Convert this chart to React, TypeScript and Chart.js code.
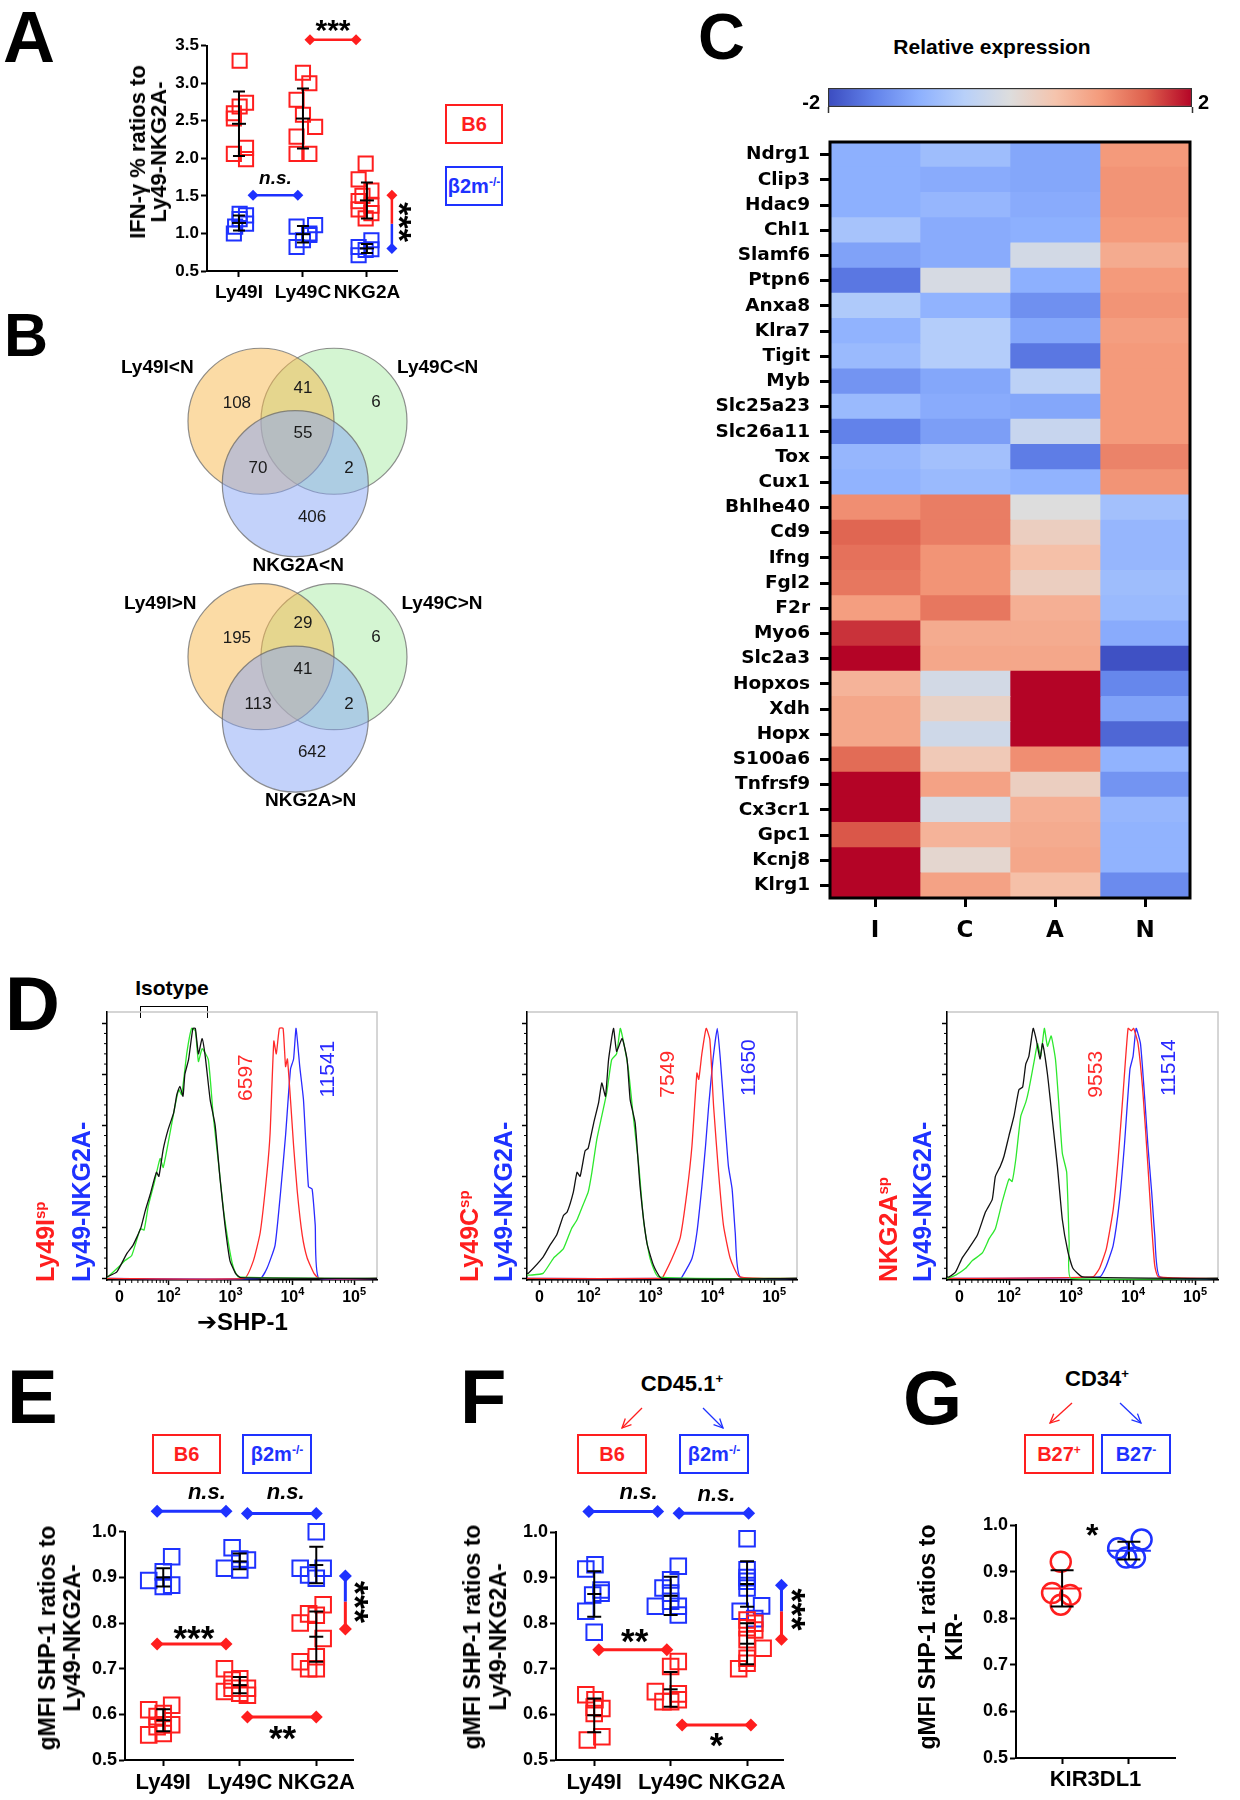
import React, { useEffect, useRef } from "react";
import { Chart, registerables } from "chart.js";

Chart.register(...registerables);

const SANS = "'Liberation Sans', Arial, sans-serif";
const DJV = "'DejaVu Sans', 'Liberation Sans', sans-serif";
Chart.defaults.font.family = SANS;
Chart.defaults.color = "#000";

const RED = "#ff1e1e";
const BLUE = "#1e32ff";
const CLEAR = "rgba(0,0,0,0)";

/* ===================== DATA ===================== */
// ---- Panel A : IFN-g % ratios ----
const catA = ["Ly49I", "Ly49C", "NKG2A"];
const aRedI_y = [3.3, 2.74, 2.69, 2.6, 2.53, 2.14, 2.06, 1.99];
const aRedI_x = [0.01, 0.11, 0.01, -0.08, -0.08, 0.11, -0.08, 0.11];
const aRedC_y = [3.14, 3.0, 2.78, 2.58, 2.42, 2.29, 2.06, 2.06];
const aRedC_x = [1.0, 1.1, 0.9, 1.0, 1.19, 0.9, 0.9, 1.1];
const aRedN_y = [1.93, 1.72, 1.57, 1.5, 1.43, 1.37, 1.32, 1.27, 1.2];
const aRedN_x = [1.98, 1.87, 2.07, 1.93, 1.87, 2.07, 1.87, 2.07, 1.98];
const aBlueI_y = [1.26, 1.24, 1.19, 1.13, 1.09, 1.0];
const aBlueI_x = [0.01, 0.11, 0.01, 0.11, -0.06, -0.08];
const aBlueC_y = [1.11, 1.09, 1.0, 0.98, 0.91, 0.82];
const aBlueC_x = [1.19, 0.9, 1.1, 1.1, 1.0, 0.9];
const aBlueN_y = [0.91, 0.82, 0.79, 0.78, 0.71];
const aBlueN_x = [2.07, 1.87, 2.07, 1.98, 1.87];
const aMeanRed = [2.46, 2.53, 1.44];
const aSdRed = [0.43, 0.4, 0.24];
const aMeanBlue = [1.14, 0.99, 0.8];
const aSdBlue = [0.1, 0.11, 0.06];
// significance brackets: [x0, y0, x1, y1, colour, endMarker0, endMarker1]
const aSig: any[] = [
  [1.11, 3.58, 1.83, 3.58, RED, 5.5, 5.5],
  [0.22, 1.51, 0.92, 1.51, BLUE, 5.5, 5.5],
  [2.39, 1.51, 2.39, 1.13, RED, 5.5, 0],
  [2.39, 1.13, 2.39, 0.8, BLUE, 0, 5.5],
];

// ---- Panel B : Venn counts ----
const vennRegionX = [-0.33, 0.575, 1.575, 0.575, -0.04, 1.205, 0.7];
const vennRegionY = [0.25, 0.455, 0.265, -0.17, -0.65, -0.65, -1.31];
const vennTopCounts = [108, 41, 6, 55, 70, 2, 406];
const vennBotCounts = [195, 29, 6, 41, 113, 2, 642];
const vennCircleX = [1.0, 0, 0.47]; // Ly49C, Ly49I, NKG2A
const vennCircleY = [0, 0, -0.855];
const vennFill = ["rgba(169,235,165,0.5)", "rgba(247,183,75,0.5)", "rgba(135,165,245,0.5)"];
const vennShift = -3.226;
const vennTopLabels = ["Ly49C<N", "Ly49I<N", "NKG2A<N"];
const vennBotLabels = ["Ly49C>N", "Ly49I>N", "NKG2A>N"];
const vennTopLabelX = [2.42, -1.42, 0.51];
const vennBotLabelX = [2.48, -1.38, 0.68];
const vennLabelY = [0.73, 0.73, -1.98];

// ---- Panel C : heatmap ----
const genes = ["Ndrg1", "Clip3", "Hdac9", "Chl1", "Slamf6", "Ptpn6", "Anxa8", "Klra7", "Tigit", "Myb", "Slc25a23", "Slc26a11", "Tox", "Cux1", "Bhlhe40", "Cd9", "Ifng", "Fgl2", "F2r", "Myo6", "Slc2a3", "Hopxos", "Xdh", "Hopx", "S100a6", "Tnfrsf9", "Cx3cr1", "Gpc1", "Kcnj8", "Klrg1"];
const heatCols = ["I", "C", "A", "N"];
const heatI = [-1.0, -1.0, -1.0, -0.7, -1.15, -1.6, -0.6, -0.95, -0.85, -1.3, -0.85, -1.5, -0.9, -0.95, 1.1, 1.45, 1.35, 1.3, 0.95, 1.75, 2.0, 0.7, 0.85, 0.85, 1.4, 2.0, 2.0, 1.55, 2.0, 2.0];
const heatC = [-0.8, -1.05, -0.9, -1.05, -1.05, -0.1, -0.95, -0.55, -0.55, -1.1, -1.05, -1.2, -0.75, -0.85, 1.25, 1.25, 1.05, 1.05, 1.3, 0.8, 0.85, -0.15, 0.25, -0.2, 0.4, 0.9, -0.1, 0.7, 0.15, 0.9];
const heatA = [-1.1, -1.1, -1.05, -1.0, -0.15, -1.0, -1.35, -1.1, -1.6, -0.45, -1.1, -0.3, -1.55, -0.95, 0.0, 0.3, 0.55, 0.3, 0.75, 0.8, 0.85, 2.0, 2.0, 2.0, 1.1, 0.3, 0.75, 0.8, 0.85, 0.55];
const heatN = [1.0, 1.05, 1.05, 1.0, 0.8, 1.0, 1.05, 0.95, 1.0, 1.0, 1.0, 1.0, 1.2, 1.05, -0.75, -0.9, -0.9, -0.8, -0.85, -1.05, -1.95, -1.45, -1.15, -1.75, -0.95, -1.3, -0.9, -0.95, -0.95, -1.4];
const CW: [number, number[]][] = [
  [0, [59, 76, 192]], [0.125, [98, 130, 234]], [0.25, [141, 176, 254]], [0.375, [184, 208, 249]],
  [0.5, [221, 221, 221]], [0.625, [245, 196, 173]], [0.75, [244, 154, 123]], [0.875, [222, 96, 77]], [1, [180, 4, 38]],
];

// ---- Panel D : histograms (x in display decades, y in % of max) ----
const d1BlackX = [1.0, 1.16, 1.32, 1.42, 1.48, 1.55, 1.62, 1.7, 1.8, 1.84, 1.91, 1.99, 2.08, 2.13, 2.18, 2.23, 2.26, 2.32, 2.39, 2.43, 2.48, 2.54, 2.59, 2.67, 2.75, 2.83, 2.91, 2.99, 3.08, 3.16, 5.37];
const d1BlackY = [0.6, 2.6, 9.7, 13, 16, 20, 26.6, 33, 41.6, 40, 50.6, 58.4, 65, 72, 75.3, 71.4, 80, 85.7, 98, 98, 88, 94, 87, 70, 60, 39, 20.8, 7, 2, 0.3, 0];
const d1GreenX = [1.0, 1.21, 1.29, 1.4, 1.54, 1.6, 1.67, 1.76, 1.86, 1.91, 2.02, 2.1, 2.16, 2.21, 2.29, 2.37, 2.43, 2.48, 2.54, 2.64, 2.72, 2.81, 2.89, 2.99, 3.05, 3.13, 5.37];
const d1GreenY = [0.3, 5, 7, 9, 19.5, 19, 28.6, 37, 47, 43.5, 57, 67.5, 74, 72, 88, 98, 97, 85, 90, 85.7, 63.6, 44, 26, 10.4, 4, 0.6, 0];
const d1RedX = [1.0, 3.22, 3.37, 3.48, 3.59, 3.64, 3.7, 3.74, 3.79, 3.85, 3.89, 3.92, 3.97, 4.02, 4.08, 4.16, 4.24, 4.35, 4.43, 5.37];
const d1RedY = [0, 0, 7, 18, 41.6, 57, 93, 88, 98, 98, 83, 86, 70, 52, 34, 17, 8, 2, 0, 0];
const d1BlueX = [1.0, 3.48, 3.59, 3.72, 3.81, 3.89, 3.97, 4.02, 4.06, 4.12, 4.18, 4.26, 4.32, 4.37, 4.43, 5.37];
const d1BlueY = [0, 0, 4, 13, 34, 56, 82, 86, 98, 83, 70, 36, 35, 21, 0, 0];

const d2BlackX = [1.0, 1.02, 1.26, 1.37, 1.48, 1.59, 1.65, 1.75, 1.81, 1.86, 1.94, 1.99, 2.08, 2.16, 2.21, 2.27, 2.32, 2.4, 2.45, 2.54, 2.62, 2.67, 2.75, 2.83, 2.94, 3.05, 3.18, 5.37];
const d2BlackY = [2, 2, 8.4, 13, 17, 24.7, 26, 33.8, 41.6, 40, 50, 51, 61, 69, 76.6, 71.4, 85.7, 98, 89, 94, 85.7, 70, 61, 36, 14, 5, 0, 0];
const d2GreenX = [1.0, 1.05, 1.26, 1.43, 1.59, 1.72, 1.81, 1.91, 1.99, 2.05, 2.13, 2.21, 2.29, 2.37, 2.45, 2.51, 2.56, 2.64, 2.72, 2.81, 2.89, 2.99, 3.13, 5.37];
const d2GreenY = [1.3, 1.3, 2, 8, 11.7, 19.5, 23, 29, 33.8, 41.6, 54.5, 63.6, 72.7, 85.7, 88, 98, 93, 82, 63.6, 44, 22, 8, 0.6, 0];
const d2RedX = [1.0, 3.18, 3.21, 3.35, 3.48, 3.59, 3.67, 3.75, 3.78, 3.83, 3.9, 3.96, 4.02, 4.1, 4.18, 4.29, 4.44, 5.37];
const d2RedY = [0, 0, 1, 8, 16, 34, 52, 80.5, 78, 88, 98, 93.5, 67.5, 41.6, 20.8, 7.8, 0.6, 0];
const d2BlueX = [1.0, 3.48, 3.51, 3.67, 3.75, 3.83, 3.89, 3.94, 4.01, 4.08, 4.13, 4.19, 4.26, 4.32, 4.37, 4.45, 5.37];
const d2BlueY = [0, 0, 0.6, 7.8, 18, 36, 52, 67.5, 85.7, 98, 85.7, 66, 44, 35, 18, 0.6, 0];

const d3BlackX = [1.0, 1.03, 1.14, 1.24, 1.35, 1.49, 1.62, 1.73, 1.78, 1.86, 1.92, 2.0, 2.08, 2.16, 2.22, 2.27, 2.32, 2.39, 2.44, 2.5, 2.54, 2.62, 2.7, 2.78, 2.86, 2.95, 3.03, 3.19, 5.37];
const d3BlackY = [0.6, 0.6, 2.6, 7.8, 11.7, 17, 26, 31, 40, 44, 48, 56, 63.6, 74, 75, 84, 87, 98, 93.5, 86, 92, 80, 62, 44, 23, 10.4, 4, 0.6, 0];
const d3GreenX = [1.0, 1.14, 1.3, 1.41, 1.57, 1.68, 1.78, 1.89, 2.0, 2.05, 2.11, 2.19, 2.27, 2.32, 2.41, 2.46, 2.51, 2.57, 2.62, 2.68, 2.75, 2.81, 2.86, 2.93, 2.97, 3.0, 5.37];
const d3GreenY = [0, 1.3, 4, 7, 10, 15.6, 19.5, 30, 39, 38, 46.8, 63.6, 69, 74, 85.7, 92, 87, 98, 91, 95, 85.7, 66, 49, 41.6, 14, 0, 0];
const d3RedX = [1.0, 3.35, 3.46, 3.57, 3.68, 3.76, 3.84, 3.92, 3.97, 4.01, 4.08, 4.16, 4.24, 4.3, 4.35, 4.41, 5.37];
const d3RedY = [0, 0.6, 4, 11.7, 27, 47, 72.7, 98, 97, 98, 92, 72.7, 44, 20.8, 5, 0.6, 0];
const d3BlueX = [1.0, 3.46, 3.57, 3.68, 3.78, 3.86, 3.95, 4.0, 4.05, 4.12, 4.19, 4.24, 4.3, 4.35, 4.43, 5.37];
const d3BlueY = [0, 0.6, 5, 13, 30, 52, 82, 87, 98, 92, 70, 52, 34, 17, 0.6, 0];

const histMajorX = [1.2, 2, 3, 4, 5];
const histXLabels = [{ v: 1.2, b: "0", e: "" }, { v: 2, b: "10", e: "2" }, { v: 3, b: "10", e: "3" }, { v: 4, b: "10", e: "4" }, { v: 5, b: "10", e: "5" }];
const histMajorY = [0, 20, 40, 60, 80, 100];
const dMfiRed = ["6597", "7549", "9553"];
const dMfiBlue = ["11541", "11650", "11514"];
const dMfiRedPos = [[3.25, 78.7], [3.28, 80], [3.41, 80]];
const dMfiBluePos = [[4.58, 82], [4.59, 82.6], [4.59, 82.6]];

// ---- Panel E ----
const eRedI_y = [0.62, 0.61, 0.602, 0.595, 0.577, 0.577, 0.573, 0.558, 0.555];
const eRedI_x = [0.11, -0.19, 0.0, -0.08, 0.11, 0.0, -0.08, 0.0, -0.19];
const eRedC_y = [0.7, 0.678, 0.675, 0.657, 0.657, 0.65, 0.646, 0.642];
const eRedC_x = [0.8, 1.0, 0.9, 1.1, 0.9, 0.8, 1.0, 1.1];
const eRedN_y = [0.84, 0.82, 0.817, 0.8, 0.766, 0.726, 0.715, 0.7, 0.7];
const eRedN_x = [2.09, 1.9, 2.0, 1.79, 2.09, 2.0, 1.79, 1.9, 2.0];
const eBlueI_y = [0.945, 0.912, 0.893, 0.883, 0.88];
const eBlueI_x = [0.11, 0.0, -0.19, 0.11, 0.0];
const eBlueC_y = [0.965, 0.94, 0.938, 0.92, 0.916];
const eBlueC_x = [0.9, 1.0, 1.1, 0.8, 1.0];
const eBlueN_y = [1.0, 0.92, 0.92, 0.905, 0.898];
const eBlueN_x = [2.0, 1.79, 2.09, 1.9, 2.0];
const eMeanRed = [0.587, 0.664, 0.77];
const eSdRed = [0.024, 0.018, 0.055];
const eMeanBlue = [0.9, 0.935, 0.927];
const eSdBlue = [0.02, 0.017, 0.04];
const eSig: any[] = [
  [-0.08, 1.045, 0.82, 1.045, BLUE, 6.5, 6.5],
  [1.1, 1.04, 2.0, 1.04, BLUE, 6.5, 6.5],
  [-0.08, 0.754, 0.82, 0.754, RED, 6.5, 6.5],
  [1.1, 0.594, 2.0, 0.594, RED, 6.5, 6.5],
  [2.38, 0.903, 2.38, 0.847, BLUE, 6.5, 0],
  [2.38, 0.847, 2.38, 0.787, RED, 0, 6.5],
];

// ---- Panel F ----
const fRedI_y = [0.643, 0.632, 0.616, 0.613, 0.602, 0.551, 0.544];
const fRedI_x = [-0.11, 0.01, 0.0, 0.1, 0.0, 0.1, -0.09];
const fRedC_y = [0.716, 0.705, 0.65, 0.645, 0.632, 0.628, 0.628];
const fRedC_x = [1.1, 1.0, 0.8, 1.1, 1.1, 0.9, 1.0];
const fRedN_y = [0.807, 0.8, 0.79, 0.785, 0.764, 0.745, 0.723, 0.712, 0.7];
const fRedN_x = [2.0, 2.1, 2.0, 2.1, 2.0, 2.21, 2.0, 2.0, 1.89];
const fBlueI_y = [0.928, 0.919, 0.873, 0.866, 0.862, 0.826, 0.78];
const fBlueI_x = [0.01, -0.11, 0.09, 0.09, -0.02, -0.11, 0.0];
const fBlueC_y = [0.925, 0.895, 0.877, 0.866, 0.848, 0.837, 0.837, 0.818];
const fBlueC_x = [1.1, 1.0, 0.9, 1.0, 1.0, 0.8, 1.1, 1.1];
const fBlueN_y = [0.985, 0.917, 0.9, 0.892, 0.877, 0.838, 0.826, 0.81];
const fBlueN_x = [2.0, 2.0, 2.0, 2.0, 2.0, 2.19, 1.91, 2.1];
const fMeanRed = [0.598, 0.655, 0.755];
const fSdRed = [0.037, 0.038, 0.045];
const fMeanBlue = [0.864, 0.86, 0.886];
const fSdBlue = [0.05, 0.042, 0.05];
const fSig: any[] = [
  [-0.07, 1.045, 0.83, 1.045, BLUE, 6.5, 6.5],
  [1.11, 1.041, 2.02, 1.041, BLUE, 6.5, 6.5],
  [0.06, 0.742, 0.95, 0.742, RED, 6.5, 6.5],
  [1.15, 0.577, 2.05, 0.577, RED, 6.5, 6.5],
  [2.45, 0.883, 2.45, 0.826, BLUE, 6.5, 0],
  [2.45, 0.826, 2.45, 0.765, RED, 0, 6.5],
];

// ---- Panel G ----
const gRed_y = [0.921, 0.854, 0.85, 0.829];
const gRed_x = [-0.02, -0.15, 0.12, -0.02];
const gBlue_y = [0.969, 0.95, 0.93, 0.93];
const gBlue_x = [1.19, 0.84, 0.96, 1.09];
const gMean = [0.864, 0.945];
const gSd = [0.039, 0.019];

/* ===================== HELPERS ===================== */
const base: any = {
  responsive: false,
  animation: false,
  events: [],
  devicePixelRatio: 1,
  plugins: { legend: { display: false }, tooltip: { enabled: false } },
};

function coolwarm(v: number) {
  const t = Math.max(0, Math.min(1, (v + 2) / 4));
  for (let i = 0; i < CW.length - 1; i++) {
    const [t0, c0] = CW[i];
    const [t1, c1] = CW[i + 1];
    if (t <= t1) {
      const f = (t - t0) / (t1 - t0);
      const c = c0.map((a, k) => Math.round(a + (c1[k] - a) * f));
      return `rgb(${c[0]},${c[1]},${c[2]})`;
    }
  }
  return "rgb(180,4,38)";
}

function textPlugin(items: any[]) {
  return {
    id: "txt",
    afterDatasetsDraw(chart: any) {
      const ctx = chart.ctx;
      items.forEach((it) => {
        const sx = chart.scales[it.xs || "x"];
        const sy = chart.scales[it.ys || "y"];
        const px = sx.getPixelForValue(it.x) + (it.dx || 0);
        const py = sy.getPixelForValue(it.y) + (it.dy || 0);
        ctx.save();
        ctx.translate(px, py);
        if (it.rot) ctx.rotate(it.rot);
        ctx.font = it.font;
        ctx.fillStyle = it.color || "#000";
        ctx.textAlign = it.align || "center";
        ctx.textBaseline = it.base || "middle";
        ctx.fillText(it.text, 0, 0);
        ctx.restore();
      });
    },
  };
}

// diamond end markers of significance brackets (drawn via the chart scales, never clipped)
function diamondPlugin(defs: any[]) {
  return {
    id: "diam",
    afterDatasetsDraw(chart: any) {
      const { ctx } = chart;
      const x = chart.scales.x;
      const y = chart.scales.y;
      ctx.save();
      defs.forEach((d) => {
        const ends = [[d[0], d[1], d[5]], [d[2], d[3], d[6]]];
        ends.forEach(([vx, vy, r]) => {
          if (!r) return;
          const px = x.getPixelForValue(vx);
          const py = y.getPixelForValue(vy);
          ctx.fillStyle = d[4];
          ctx.beginPath();
          ctx.moveTo(px, py - r);
          ctx.lineTo(px + r, py);
          ctx.lineTo(px, py + r);
          ctx.lineTo(px - r, py);
          ctx.closePath();
          ctx.fill();
        });
      });
      ctx.restore();
    },
  };
}

function errPlugin(items: any[]) {
  return {
    id: "err",
    afterDatasetsDraw(chart: any) {
      const { ctx } = chart;
      const x = chart.scales.x;
      const y = chart.scales.y;
      ctx.save();
      ctx.lineWidth = 2;
      items.forEach((it) => {
        const px = x.getPixelForValue(it.x);
        const pm = y.getPixelForValue(it.m);
        const pt = y.getPixelForValue(it.m + it.sd);
        const pb = y.getPixelForValue(it.m - it.sd);
        ctx.strokeStyle = "#000";
        ctx.beginPath();
        ctx.moveTo(px, pt);
        ctx.lineTo(px, pb);
        ctx.moveTo(px - it.cw, pt);
        ctx.lineTo(px + it.cw, pt);
        ctx.moveTo(px - it.cw, pb);
        ctx.lineTo(px + it.cw, pb);
        ctx.stroke();
        ctx.strokeStyle = it.mc || "#000";
        ctx.beginPath();
        ctx.moveTo(px - it.mw, pm);
        ctx.lineTo(px + it.mw, pm);
        ctx.stroke();
      });
      ctx.restore();
    },
  };
}

function framePlugin(color: string, w: number) {
  return {
    id: "frame",
    afterDatasetsDraw(chart: any) {
      const { ctx, chartArea: a } = chart;
      ctx.save();
      ctx.strokeStyle = color;
      ctx.lineWidth = w;
      ctx.strokeRect(a.left, a.top, a.right - a.left, a.bottom - a.top);
      ctx.restore();
    },
  };
}

function marks(xs: number[], ys: number[], color: string, style: string, r: number, bw = 2) {
  return {
    type: "scatter",
    data: ys.map((y, i) => ({ x: xs[i], y })),
    showLine: false,
    pointStyle: style,
    pointRadius: r,
    pointHoverRadius: r,
    pointBorderWidth: bw,
    pointBorderColor: color,
    pointBackgroundColor: CLEAR,
    borderColor: color,
    backgroundColor: CLEAR,
    clip: false,
  };
}

function sigLines(defs: any[], lw: number) {
  return defs.map((d) => ({
    type: "scatter",
    showLine: true,
    data: [{ x: d[0], y: d[1] }, { x: d[2], y: d[3] }],
    borderColor: d[4],
    borderWidth: lw,
    pointRadius: 0,
    pointHoverRadius: 0,
    clip: false,
  }));
}

function dotOptions(p: any) {
  return {
    ...base,
    layout: { padding: p.pad },
    scales: {
      x: {
        type: "linear",
        min: p.xMin,
        max: p.xMax,
        afterBuildTicks: (s: any) => {
          s.ticks = p.xTicks.map((v: number) => ({ value: v }));
        },
        afterFit: (s: any) => {
          s.height = p.xH;
        },
        ticks: { callback: (v: any) => p.xLabel(v), font: p.xFont, color: "#000", padding: p.xPad ?? 4, maxRotation: 0, autoSkip: false },
        grid: {
          drawOnChartArea: false,
          tickLength: 6,
          tickWidth: 2,
          tickColor: (c: any) => (p.hideTick && c.tick && c.tick.value === p.hideTick ? CLEAR : "#000"),
        },
        border: { display: true, color: "#000", width: 2 },
      },
      y: {
        type: "linear",
        min: p.yMin,
        max: p.yMax,
        ticks: { stepSize: p.yStep, callback: (v: any) => Number(v).toFixed(1), font: p.yFont, color: "#000", padding: 2 },
        afterFit: (s: any) => {
          s.width = p.yW;
        },
        grid: { drawOnChartArea: false, tickLength: 6, tickWidth: 2, tickColor: "#000" },
        border: { display: true, color: "#000", width: 2 },
      },
    },
  };
}

const fBold = (s: number) => ({ family: SANS, size: s, weight: "bold" as const });

/* ===================== CHART FACTORIES ===================== */
function makeA() {
  const errs = [0, 1, 2].flatMap((i) => [
    { x: i, m: aMeanRed[i], sd: aSdRed[i], mw: 7, cw: 6 },
    { x: i, m: aMeanBlue[i], sd: aSdBlue[i], mw: 7, cw: 6 },
  ]);
  const texts = [
    { x: 1.47, y: 3.8, text: "***", font: `bold 30px ${SANS}`, base: "alphabetic", dy: 17 },
    { x: 0.57, y: 1.73, text: "n.s.", font: `italic bold 19px ${SANS}` },
    { x: 2.62, y: 1.15, text: "***", font: `bold 34px ${SANS}`, rot: Math.PI / 2, base: "alphabetic", dx: -19 },
  ];
  return {
    type: "scatter",
    data: {
      datasets: [
        marks(aRedI_x, aRedI_y, RED, "rect", 10),
        marks(aRedC_x, aRedC_y, RED, "rect", 10),
        marks(aRedN_x, aRedN_y, RED, "rect", 10),
        marks(aBlueI_x, aBlueI_y, BLUE, "rect", 10),
        marks(aBlueC_x, aBlueC_y, BLUE, "rect", 10),
        marks(aBlueN_x, aBlueN_y, BLUE, "rect", 10),
        ...sigLines(aSig, 2.5),
      ],
    },
    options: dotOptions({
      pad: { left: 57, top: 45.7, right: 43, bottom: 4 },
      yMin: 0.5, yMax: 3.5, yStep: 0.5, xMin: -0.5, xMax: 2.47, xTicks: [0, 1, 2],
      xLabel: (v: number) => catA[v], xFont: fBold(19), yFont: fBold(17), yW: 50, xH: 35,
    }),
    plugins: [errPlugin(errs), diamondPlugin(aSig), textPlugin(texts)],
  };
}

function makeVenn() {
  const pts: any[] = [];
  const colors: string[] = [];
  [0, vennShift].forEach((sh) => {
    vennCircleX.forEach((cx, i) => {
      pts.push({ x: cx, y: vennCircleY[i] + sh });
      colors.push(vennFill[i]);
    });
  });
  const texts: any[] = [];
  const numFont = `17px ${SANS}`;
  vennTopCounts.forEach((c, i) => texts.push({ x: vennRegionX[i], y: vennRegionY[i], text: String(c), font: numFont, color: "#1a1a1a" }));
  vennBotCounts.forEach((c, i) => texts.push({ x: vennRegionX[i], y: vennRegionY[i] + vennShift, text: String(c), font: numFont, color: "#1a1a1a" }));
  vennTopLabels.forEach((l, i) => texts.push({ x: vennTopLabelX[i], y: vennLabelY[i], text: l, font: `bold 19px ${SANS}` }));
  vennBotLabels.forEach((l, i) => texts.push({ x: vennBotLabelX[i], y: vennLabelY[i] + vennShift, text: l, font: `bold 19px ${SANS}` }));
  const unit = (c: any) => {
    const s = c.chart.scales.x;
    return s.getPixelForValue(1) - s.getPixelForValue(0);
  };
  return {
    type: "scatter",
    data: {
      datasets: [
        {
          data: pts,
          pointRadius: unit,
          pointHoverRadius: unit,
          pointBackgroundColor: colors,
          pointBorderColor: "rgba(105,105,105,0.75)",
          pointBorderWidth: 1.2,
          clip: false,
        },
      ],
    },
    options: {
      ...base,
      layout: { padding: 0 },
      scales: {
        x: { type: "linear", display: false, min: -3.027, max: 4.37 },
        y: { type: "linear", display: false, min: -5.6, max: 1.25 },
      },
    },
    plugins: [textPlugin(texts)],
  };
}

function makeHeat() {
  const cols = [heatI, heatC, heatA, heatN];
  return {
    type: "bar",
    data: {
      labels: genes,
      datasets: cols.map((vals, j) => ({
        data: vals.map(() => [j, j + 1]),
        backgroundColor: vals.map(coolwarm),
        borderWidth: 0,
        barPercentage: 1,
        categoryPercentage: 1,
        grouped: false,
      })),
    },
    options: {
      ...base,
      indexAxis: "y",
      layout: { padding: { left: 10, top: 22, right: 50, bottom: 12 } },
      scales: {
        x: {
          type: "linear",
          min: 0,
          max: 4,
          afterBuildTicks: (s: any) => {
            s.ticks = [0.5, 1.5, 2.5, 3.5].map((v) => ({ value: v }));
          },
          afterFit: (s: any) => {
            s.height = 50;
          },
          ticks: { callback: (v: any) => heatCols[Math.floor(v)], font: { family: DJV, size: 23, weight: "bold" }, color: "#000", padding: 10, maxRotation: 0 },
          grid: { drawOnChartArea: false, tickLength: 9, tickWidth: 3, tickColor: "#000" },
          border: { display: false },
        },
        y: {
          type: "category",
          afterFit: (s: any) => {
            s.width = 130;
          },
          ticks: { autoSkip: false, font: { family: DJV, size: 18.5, weight: "bold" }, color: "#000", padding: 10 },
          grid: { offset: false, drawOnChartArea: false, tickLength: 10, tickWidth: 3, tickColor: "#000" },
          border: { display: false },
        },
      },
    },
    plugins: [framePlugin("#000", 3)],
  };
}

function makeColorbar() {
  return {
    type: "bar",
    data: {
      labels: [""],
      datasets: [
        {
          data: [[-2, 2]],
          backgroundColor: (c: any) => {
            const a = c.chart.chartArea;
            if (!a) return "#ddd";
            const g = c.chart.ctx.createLinearGradient(a.left, 0, a.right, 0);
            CW.forEach(([t, col]) => g.addColorStop(t, `rgb(${col[0]},${col[1]},${col[2]})`));
            return g;
          },
          borderColor: "#333",
          borderWidth: 1.5,
          borderSkipped: false,
          barPercentage: 1,
          categoryPercentage: 1,
        },
      ],
    },
    options: {
      ...base,
      indexAxis: "y",
      layout: { padding: { left: 48, top: 18, right: 48, bottom: 5 } },
      scales: {
        x: {
          type: "linear",
          min: -2,
          max: 2,
          afterBuildTicks: (s: any) => {
            s.ticks = [{ value: -2 }, { value: 2 }];
          },
          afterFit: (s: any) => {
            s.height = 8;
          },
          ticks: { display: false },
          grid: { drawOnChartArea: false, tickLength: 6, tickWidth: 1.5, tickColor: "#333" },
          border: { display: false },
        },
        y: { type: "category", display: false },
      },
    },
    plugins: [
      textPlugin([
        { x: -2, y: 0, text: "-2", font: `bold 20px ${SANS}`, align: "right", dx: -8, dy: 6 },
        { x: 2, y: 0, text: "2", font: `bold 20px ${SANS}`, align: "left", dx: 6, dy: 6 },
      ]),
    ],
  };
}

function histDeco() {
  const minorX: number[] = [1.08, 1.3, 1.4, 1.5, 1.58, 1.66, 1.73, 1.8, 1.86, 1.91, 1.96];
  [2, 3, 4].forEach((k) => [2, 3, 4, 5, 6, 7, 8, 9].forEach((m) => minorX.push(k + Math.log10(m))));
  minorX.push(5 + Math.log10(2));
  const minorY: number[] = [];
  for (let v = 4; v < 100; v += 4) if (v % 20 !== 0) minorY.push(v);
  return {
    id: "hdeco",
    beforeDraw(chart: any) {
      const { ctx, chartArea: a } = chart;
      ctx.save();
      ctx.strokeStyle = "#c8c8c8";
      ctx.lineWidth = 1.5;
      ctx.strokeRect(a.left, a.top, a.right - a.left, a.bottom - a.top);
      ctx.restore();
    },
    afterDraw(chart: any) {
      const { ctx, chartArea: a } = chart;
      const x = chart.scales.x;
      const y = chart.scales.y;
      ctx.save();
      ctx.strokeStyle = "#000";
      ctx.lineWidth = 1;
      ctx.beginPath();
      minorX.forEach((v) => {
        const px = x.getPixelForValue(v);
        ctx.moveTo(px, a.bottom);
        ctx.lineTo(px, a.bottom + 3);
      });
      minorY.forEach((v) => {
        const py = y.getPixelForValue(v);
        ctx.moveTo(a.left, py);
        ctx.lineTo(a.left - 3, py);
      });
      ctx.stroke();
      ctx.fillStyle = "#000";
      ctx.textBaseline = "alphabetic";
      ctx.textAlign = "left";
      histXLabels.forEach((l) => {
        const px = x.getPixelForValue(l.v);
        ctx.font = `bold 16px ${SANS}`;
        const wb = ctx.measureText(l.b).width;
        ctx.font = `bold 11px ${SANS}`;
        const we = l.e ? ctx.measureText(l.e).width : 0;
        const start = px - (wb + we) / 2;
        ctx.font = `bold 16px ${SANS}`;
        ctx.fillText(l.b, start, a.bottom + 22);
        if (l.e) {
          ctx.font = `bold 11px ${SANS}`;
          ctx.fillText(l.e, start + wb, a.bottom + 15);
        }
      });
      ctx.restore();
    },
  };
}

function makeHist(k: number, padRight: number) {
  const curves = [
    [[d1BlackX, d1BlackY], [d2BlackX, d2BlackY], [d3BlackX, d3BlackY]][k],
    [[d1GreenX, d1GreenY], [d2GreenX, d2GreenY], [d3GreenX, d3GreenY]][k],
    [[d1RedX, d1RedY], [d2RedX, d2RedY], [d3RedX, d3RedY]][k],
    [[d1BlueX, d1BlueY], [d2BlueX, d2BlueY], [d3BlueX, d3BlueY]][k],
  ];
  const colors = ["#111111", "#2ee82e", "#ff2a2a", "#2a2aff"];
  const texts = [
    { x: dMfiRedPos[k][0], y: dMfiRedPos[k][1], text: dMfiRed[k], font: `21px ${SANS}`, color: "#ff2a2a", rot: -Math.PI / 2 },
    { x: dMfiBluePos[k][0], y: dMfiBluePos[k][1], text: dMfiBlue[k], font: `21px ${SANS}`, color: "#2a2aff", rot: -Math.PI / 2 },
  ];
  return {
    type: "line",
    data: {
      datasets: curves.map((c, i) => ({
        data: c[1].map((y, j) => ({ x: c[0][j], y })),
        borderColor: colors[i],
        borderWidth: 1.3,
        pointRadius: 0,
        tension: 0.15,
        fill: false,
      })),
    },
    options: {
      ...base,
      layout: { padding: { left: 17, top: 12, right: padRight, bottom: 0 } },
      scales: {
        x: {
          type: "linear",
          min: 1.0,
          max: 5.37,
          afterBuildTicks: (s: any) => {
            s.ticks = histMajorX.map((v) => ({ value: v }));
          },
          afterFit: (s: any) => {
            s.height = 30;
          },
          ticks: { display: false },
          grid: { drawOnChartArea: false, tickLength: 5, tickWidth: 1.5, tickColor: "#000" },
          border: { display: true, color: "#000", width: 1.5 },
        },
        y: {
          type: "linear",
          min: -0.6,
          max: 104.4,
          afterBuildTicks: (s: any) => {
            s.ticks = histMajorY.map((v) => ({ value: v }));
          },
          afterFit: (s: any) => {
            s.width = 10;
          },
          ticks: { display: false },
          grid: { drawOnChartArea: false, tickLength: 5, tickWidth: 1.5, tickColor: "#000" },
          border: { display: true, color: "#000", width: 1.5 },
        },
      },
    },
    plugins: [histDeco(), textPlugin(texts)],
  };
}

function makeE() {
  const errs = [0, 1, 2].flatMap((i) => [
    { x: i, m: eMeanRed[i], sd: eSdRed[i], mw: 7, cw: 7 },
    { x: i, m: eMeanBlue[i], sd: eSdBlue[i], mw: 7, cw: 7 },
  ]);
  const texts = [
    { x: 0.57, y: 1.084, text: "n.s.", font: `italic bold 22px ${SANS}` },
    { x: 1.6, y: 1.084, text: "n.s.", font: `italic bold 22px ${SANS}` },
    { x: 0.4, y: 0.784, text: "***", font: `bold 35px ${SANS}`, base: "alphabetic", dy: 20 },
    { x: 1.56, y: 0.565, text: "**", font: `bold 35px ${SANS}`, base: "alphabetic", dy: 20 },
    { x: 2.6, y: 0.846, text: "***", font: `bold 36px ${SANS}`, rot: Math.PI / 2, base: "alphabetic", dx: -20 },
  ];
  return {
    type: "scatter",
    data: {
      datasets: [
        marks(eRedI_x, eRedI_y, RED, "rect", 11),
        marks(eRedC_x, eRedC_y, RED, "rect", 11),
        marks(eRedN_x, eRedN_y, RED, "rect", 11),
        marks(eBlueI_x, eBlueI_y, BLUE, "rect", 11),
        marks(eBlueC_x, eBlueC_y, BLUE, "rect", 11),
        marks(eBlueN_x, eBlueN_y, BLUE, "rect", 11),
        ...sigLines(eSig, 3),
      ],
    },
    options: dotOptions({
      pad: { left: 75, top: 51.7, right: 67, bottom: 5 },
      yMin: 0.5, yMax: 1.0, yStep: 0.1, xMin: -0.5, xMax: 2.48, xTicks: [0, 1, 2],
      xLabel: (v: number) => catA[v], xFont: fBold(22), yFont: fBold(18), yW: 50, xH: 35,
    }),
    plugins: [errPlugin(errs), diamondPlugin(eSig), textPlugin(texts)],
  };
}

function makeF() {
  const errs = [0, 1, 2].flatMap((i) => [
    { x: i, m: fMeanRed[i], sd: fSdRed[i], mw: 7, cw: 7 },
    { x: i, m: fMeanBlue[i], sd: fSdBlue[i], mw: 7, cw: 7 },
  ]);
  const texts = [
    { x: 0.58, y: 1.086, text: "n.s.", font: `italic bold 22px ${SANS}` },
    { x: 1.6, y: 1.082, text: "n.s.", font: `italic bold 22px ${SANS}` },
    { x: 0.53, y: 0.778, text: "**", font: `bold 35px ${SANS}`, base: "alphabetic", dy: 20 },
    { x: 1.6, y: 0.551, text: "*", font: `bold 35px ${SANS}`, base: "alphabetic", dy: 20 },
    { x: 2.68, y: 0.83, text: "***", font: `bold 36px ${SANS}`, rot: Math.PI / 2, base: "alphabetic", dx: -20 },
  ];
  return {
    type: "scatter",
    data: {
      datasets: [
        marks(fRedI_x, fRedI_y, RED, "rect", 11),
        marks(fRedC_x, fRedC_y, RED, "rect", 11),
        marks(fRedN_x, fRedN_y, RED, "rect", 11),
        marks(fBlueI_x, fBlueI_y, BLUE, "rect", 11),
        marks(fBlueC_x, fBlueC_y, BLUE, "rect", 11),
        marks(fBlueN_x, fBlueN_y, BLUE, "rect", 11),
        ...sigLines(fSig, 3),
      ],
    },
    options: dotOptions({
      pad: { left: 66, top: 52, right: 57, bottom: 5 },
      yMin: 0.5, yMax: 1.0, yStep: 0.1, xMin: -0.5, xMax: 2.47, xTicks: [0, 1, 2],
      xLabel: (v: number) => catA[v], xFont: fBold(22), yFont: fBold(18), yW: 50, xH: 35,
    }),
    plugins: [errPlugin(errs), diamondPlugin(fSig), textPlugin(texts)],
  };
}

function makeG() {
  const errs = [
    { x: 0, m: gMean[0], sd: gSd[0], mc: RED, mw: 20, cw: 11.5 },
    { x: 1, m: gMean[1], sd: gSd[1], mc: BLUE, mw: 22, cw: 11.5 },
  ];
  const texts = [{ x: 0.45, y: 0.993, text: "*", font: `bold 32px ${SANS}`, base: "alphabetic", dy: 18 }];
  return {
    type: "scatter",
    data: {
      datasets: [marks(gRed_x, gRed_y, RED, "circle", 10, 2.5), marks(gBlue_x, gBlue_y, BLUE, "circle", 10, 2.5)],
    },
    options: dotOptions({
      pad: { left: 6, top: 45, right: 65, bottom: 7 },
      yMin: 0.5, yMax: 1.0, yStep: 0.1, xMin: -0.69, xMax: 1.69, xTicks: [0, 0.5, 1], hideTick: 0.5, xPad: 3,
      xLabel: (v: number) => (v === 0.5 ? "KIR3DL1" : ""), xFont: fBold(22), yFont: fBold(18), yW: 50, xH: 35,
    }),
    plugins: [errPlugin(errs), textPlugin(texts)],
  };
}

/* ===================== COMPONENTS ===================== */
function ChartBox({ left, top, width, height, make }: any) {
  const ref = useRef<HTMLCanvasElement | null>(null);
  useEffect(() => {
    const chart = new Chart(ref.current as HTMLCanvasElement, make());
    return () => chart.destroy();
  }, []);
  return (
    <div style={{ position: "absolute", left, top, width, height }}>
      <canvas ref={ref} width={width} height={height} style={{ display: "block", width, height }} />
    </div>
  );
}

function T({ x, y, size, children, align = "left", weight = 700, color = "#000", family = SANS, italic = false }: any) {
  const tx = align === "center" ? "translateX(-50%)" : align === "right" ? "translateX(-100%)" : "none";
  return (
    <div
      style={{
        position: "absolute",
        left: x,
        top: y - 0.8465 * size,
        fontSize: size,
        lineHeight: 1,
        fontWeight: weight,
        fontFamily: family,
        fontStyle: italic ? "italic" : "normal",
        color,
        whiteSpace: "nowrap",
        transform: tx,
      }}
    >
      {children}
    </div>
  );
}

function Sup({ children }: any) {
  return <span style={{ fontSize: "0.6em", position: "relative", top: "-0.6em" }}>{children}</span>;
}

function VTitle({ cx, cy, lines, size, lh }: any) {
  return (
    <div
      style={{
        position: "absolute",
        left: cx,
        top: cy,
        transform: "translate(-50%,-50%) rotate(-90deg)",
        fontSize: size,
        lineHeight: `${lh}px`,
        fontWeight: 700,
        fontFamily: SANS,
        textAlign: "center",
        whiteSpace: "nowrap",
      }}
    >
      {lines.map((l: string, i: number) => (
        <div key={i}>{l}</div>
      ))}
    </div>
  );
}

function VBottom({ cx, bottom, lh, size, children }: any) {
  return (
    <div
      style={{
        position: "absolute",
        left: cx - lh / 2,
        top: bottom,
        transformOrigin: "0 0",
        transform: "rotate(-90deg)",
        fontSize: size,
        lineHeight: `${lh}px`,
        fontWeight: 700,
        fontFamily: SANS,
        whiteSpace: "nowrap",
      }}
    >
      {children}
    </div>
  );
}

function LBox({ x, y, w, h, color, children, size = 20 }: any) {
  return (
    <div
      style={{
        position: "absolute",
        left: x,
        top: y,
        width: w,
        height: h,
        boxSizing: "border-box",
        border: `2px solid ${color}`,
        color,
        fontFamily: SANS,
        fontWeight: 700,
        fontSize: size,
        display: "flex",
        alignItems: "center",
        justifyContent: "center",
        lineHeight: 1,
      }}
    >
      {children}
    </div>
  );
}

function Arrow({ x1, y1, x2, y2, color }: any) {
  const ang = Math.atan2(y1 - y2, x1 - x2);
  const L = 10;
  const a1 = ang + Math.PI / 7;
  const a2 = ang - Math.PI / 7;
  const p = `${x2 + L * Math.cos(a1)},${y2 + L * Math.sin(a1)} ${x2},${y2} ${x2 + L * Math.cos(a2)},${y2 + L * Math.sin(a2)}`;
  return (
    <g stroke={color} strokeWidth={1.3} fill="none">
      <line x1={x1} y1={y1} x2={x2} y2={y2} />
      <polyline points={p} />
    </g>
  );
}

const Beta = () => (
  <span>
    β2m<Sup>-/-</Sup>
  </span>
);

export default function App() {
  return (
    <div style={{ position: "absolute", left: 0, top: 0, width: 1240, height: 1800, background: "#fff", overflow: "hidden" }}>
      {/* Panel letters */}
      <T x={3} y={62} size={72}>A</T>
      <T x={4} y={357} size={61}>B</T>
      <T x={698} y={59} size={65}>C</T>
      <T x={5} y={1030} size={76}>D</T>
      <T x={7} y={1423} size={76}>E</T>
      <T x={460} y={1423} size={76}>F</T>
      <T x={903} y={1424} size={76}>G</T>

      {/* Panel A */}
      <ChartBox left={100} top={0} width={340} height={310} make={makeA} />
      <VTitle cx={148} cy={152} lines={["IFN-γ % ratios to", "Ly49-NKG2A-"]} size={22} lh={21} />
      <LBox x={445} y={104} w={58} h={40} color={RED}>B6</LBox>
      <LBox x={445} y={166} w={58} h={40} color={BLUE}>
        <Beta />
      </LBox>

      {/* Panel B */}
      <ChartBox left={40} top={330} width={540} height={500} make={makeVenn} />

      {/* Panel C */}
      <T x={992} y={54} size={21} align="center">Relative expression</T>
      <ChartBox left={780} top={70} width={460} height={50} make={makeColorbar} />
      <ChartBox left={690} top={120} width={550} height={840} make={makeHeat} />

      {/* Panel D */}
      <T x={172} y={995} size={21} align="center">Isotype</T>
      <div style={{ position: "absolute", left: 140, top: 1006, width: 68, height: 12, borderTop: "1.5px solid #000", borderLeft: "1.5px solid #000", borderRight: "1.5px solid #000", boxSizing: "border-box" }} />
      <ChartBox left={80} top={1000} width={320} height={310} make={() => makeHist(0, 23)} />
      <ChartBox left={500} top={1000} width={320} height={310} make={() => makeHist(1, 23)} />
      <ChartBox left={920} top={1000} width={320} height={310} make={() => makeHist(2, 22)} />
      <T x={197} y={1330} size={24}>
        <span style={{ fontFamily: DJV }}>➔</span>SHP-1
      </T>
      <VBottom cx={45} bottom={1282} lh={32} size={25}>
        <div style={{ color: RED }}>
          Ly49I<Sup>sp</Sup>
        </div>
        <div style={{ color: BLUE }}>Ly49-NKG2A-</div>
      </VBottom>
      <VBottom cx={469} bottom={1282} lh={31} size={25}>
        <div style={{ color: RED }}>
          Ly49C<Sup>sp</Sup>
        </div>
        <div style={{ color: BLUE }}>Ly49-NKG2A-</div>
      </VBottom>
      <VBottom cx={888} bottom={1282} lh={31} size={25}>
        <div style={{ color: RED }}>
          NKG2A<Sup>sp</Sup>
        </div>
        <div style={{ color: BLUE }}>Ly49-NKG2A-</div>
      </VBottom>

      {/* Panel E */}
      <ChartBox left={0} top={1480} width={420} height={320} make={makeE} />
      <VTitle cx={60} cy={1638} lines={["gMFI SHP-1 ratios to", "Ly49-NKG2A-"]} size={23} lh={25} />
      <LBox x={152} y={1434} w={69} h={40} color={RED}>B6</LBox>
      <LBox x={242} y={1434} w={70} h={40} color={BLUE}>
        <Beta />
      </LBox>

      {/* Panel F */}
      <ChartBox left={440} top={1480} width={400} height={320} make={makeF} />
      <VTitle cx={485} cy={1637} lines={["gMFI SHP-1 ratios to", "Ly49-NKG2A-"]} size={23} lh={26} />
      <T x={682} y={1392} size={22} align="center">
        CD45.1<Sup>+</Sup>
      </T>
      <LBox x={577} y={1434} w={70} h={40} color={RED}>B6</LBox>
      <LBox x={679} y={1434} w={70} h={40} color={BLUE}>
        <Beta />
      </LBox>

      {/* Panel G */}
      <ChartBox left={960} top={1480} width={280} height={320} make={makeG} />
      <VTitle cx={941} cy={1637} lines={["gMFI SHP-1 ratios to", "KIR-"]} size={23} lh={27} />
      <T x={1097} y={1387} size={22} align="center">
        CD34<Sup>+</Sup>
      </T>
      <LBox x={1024} y={1434} w={70} h={40} color={RED}>
        <span>
          B27<Sup>+</Sup>
        </span>
      </LBox>
      <LBox x={1101} y={1434} w={70} h={40} color={BLUE}>
        <span>
          B27<Sup>-</Sup>
        </span>
      </LBox>

      <svg style={{ position: "absolute", left: 0, top: 0, pointerEvents: "none" }} width={1240} height={1800}>
        <Arrow x1={642} y1={1408} x2={622} y2={1428} color={RED} />
        <Arrow x1={703} y1={1408} x2={723} y2={1428} color={BLUE} />
        <Arrow x1={1072} y1={1403} x2={1050} y2={1423} color={RED} />
        <Arrow x1={1120} y1={1403} x2={1141} y2={1423} color={BLUE} />
      </svg>
    </div>
  );
}
